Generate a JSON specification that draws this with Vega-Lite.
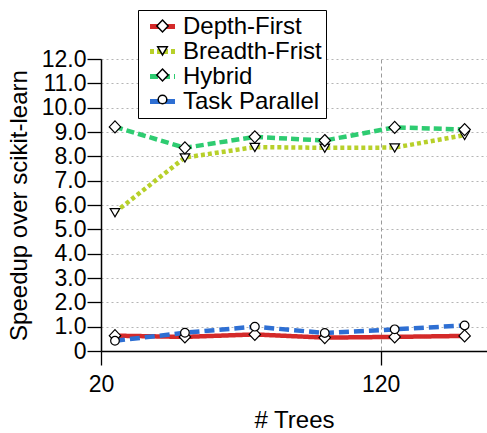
{
  "$schema": "https://vega.github.io/schema/vega-lite/v6.json",
  "width": 386,
  "height": 292,
  "autosize": {"type": "none"},
  "padding": {"left": 101, "top": 59, "right": 0, "bottom": 82},
  "background": "white",
  "config": {
    "view": {"stroke": null},
    "font": "Liberation Sans",
    "axis": {
      "labelFont": "Liberation Sans",
      "titleFont": "Liberation Sans",
      "labelColor": "black",
      "titleColor": "black",
      "titleFontWeight": "normal",
      "labelFontSize": 23,
      "titleFontSize": 24,
      "tickColor": "black",
      "tickWidth": 1.3,
      "tickSize": 14,
      "domainColor": "black",
      "domainWidth": 1.5,
      "labelFlush": false,
      "labelOverlap": false
    }
  },
  "data": {
    "values": [
      {"series": "Depth-First", "trees": 25, "speedup": 0.63},
      {"series": "Depth-First", "trees": 50, "speedup": 0.58},
      {"series": "Depth-First", "trees": 75, "speedup": 0.68},
      {"series": "Depth-First", "trees": 100, "speedup": 0.55},
      {"series": "Depth-First", "trees": 125, "speedup": 0.58},
      {"series": "Depth-First", "trees": 150, "speedup": 0.62},
      {"series": "Breadth-Frist", "trees": 25, "speedup": 5.7},
      {"series": "Breadth-Frist", "trees": 50, "speedup": 7.95},
      {"series": "Breadth-Frist", "trees": 75, "speedup": 8.38},
      {"series": "Breadth-Frist", "trees": 100, "speedup": 8.35},
      {"series": "Breadth-Frist", "trees": 125, "speedup": 8.36},
      {"series": "Breadth-Frist", "trees": 150, "speedup": 8.87},
      {"series": "Hybrid", "trees": 25, "speedup": 9.21},
      {"series": "Hybrid", "trees": 50, "speedup": 8.35},
      {"series": "Hybrid", "trees": 75, "speedup": 8.8},
      {"series": "Hybrid", "trees": 100, "speedup": 8.65},
      {"series": "Hybrid", "trees": 125, "speedup": 9.19},
      {"series": "Hybrid", "trees": 150, "speedup": 9.1},
      {"series": "Task Parallel", "trees": 25, "speedup": 0.42},
      {"series": "Task Parallel", "trees": 50, "speedup": 0.75},
      {"series": "Task Parallel", "trees": 75, "speedup": 1.0},
      {"series": "Task Parallel", "trees": 100, "speedup": 0.74},
      {"series": "Task Parallel", "trees": 125, "speedup": 0.89},
      {"series": "Task Parallel", "trees": 150, "speedup": 1.05}
    ]
  },
  "encoding": {
    "x": {
      "field": "trees",
      "type": "quantitative",
      "scale": {"domain": [20, 158], "nice": false, "zero": false},
      "axis": {
        "values": [20, 120],
        "title": "# Trees",
        "labelPadding": 8,
        "titlePadding": 12,
        "grid": true,
        "gridDash": [4, 3],
        "gridColor": "#9a9a9a",
        "gridWidth": 1
      }
    },
    "y": {
      "field": "speedup",
      "type": "quantitative",
      "scale": {"domain": [0, 12], "nice": false},
      "axis": {
        "values": [0, 1, 2, 3, 4, 5, 6, 7, 8, 9, 10, 11, 12],
        "labelExpr": "datum.value == 0 ? '0' : format(datum.value, '.1f')",
        "title": "Speedup over scikit-learn",
        "labelPadding": 1,
        "titlePadding": 10,
        "grid": true,
        "gridDash": [2, 3],
        "gridColor": "#b5b5b5",
        "gridWidth": 1
      }
    }
  },
  "layer": [
    {
      "mark": {"type": "line", "strokeWidth": 4.5},
      "encoding": {
        "color": {
          "field": "series",
          "type": "nominal",
          "scale": {
            "domain": ["Depth-First", "Breadth-Frist", "Hybrid", "Task Parallel"],
            "range": ["#d42a2a", "#b7d02a", "#2ecc71", "#2e6fd3"]
          },
          "legend": {
            "orient": "none",
            "legendX": 37,
            "legendY": -49,
            "title": null,
            "padding": 4,
            "symbolOffset": 8,
            "symbolType": "M-1.25,0H1.25",
            "symbolSize": 400,
            "symbolStrokeWidth": 5,
            "labelFontSize": 24,
            "labelFont": "Liberation Sans",
            "labelColor": "black",
            "labelOffset": 8,
            "rowPadding": -0.5,
            "fillColor": "white",
            "strokeColor": "black",
            "labelExpr": "datum.label + '  '",
            "zindex": 1
          }
        },
        "strokeDash": {
          "field": "series",
          "type": "nominal",
          "scale": {
            "domain": ["Depth-First", "Breadth-Frist", "Hybrid", "Task Parallel"],
            "range": [[1, 0], [4, 3], [8, 4], [10, 5]]
          }
        }
      }
    },
    {
      "mark": {"type": "point", "fill": "white", "stroke": "black", "strokeWidth": 1.2, "size": 144, "opacity": 1, "filled": false},
      "encoding": {
        "shape": {
          "field": "series",
          "type": "nominal",
          "scale": {
            "range": [
              "M-0.8,-0.62L0.8,-0.62L0,0.75Z",
              "M0,-1L0.95,0L0,1L-0.95,0Z",
              "M0,-1L0.95,0L0,1L-0.95,0Z",
              "M-0.72,0A0.72,0.72 0 1,0 0.72,0A0.72,0.72 0 1,0 -0.72,0Z"
            ]
          },
          "legend": {
            "orient": "none",
            "legendX": 37,
            "legendY": -49,
            "title": null,
            "values": ["Depth-First", "Breadth-Frist", "Hybrid", "Task Parallel"],
            "padding": 4,
            "symbolOffset": 8.5,
            "symbolSize": 144,
            "labelFontSize": 24,
            "labelFont": "Liberation Sans",
            "labelOpacity": 0,
            "labelExpr": "' '",
            "labelOffset": 7,
            "rowPadding": 0.5,
            "zindex": 2,
            "encode": {
              "symbols": {
                "update": {
                  "fill": {"value": "white"},
                  "stroke": {"value": "black"},
                  "strokeWidth": {"value": 1.2},
                  "opacity": {"value": 1}
                }
              }
            }
          }
        }
      }
    }
  ]
}
